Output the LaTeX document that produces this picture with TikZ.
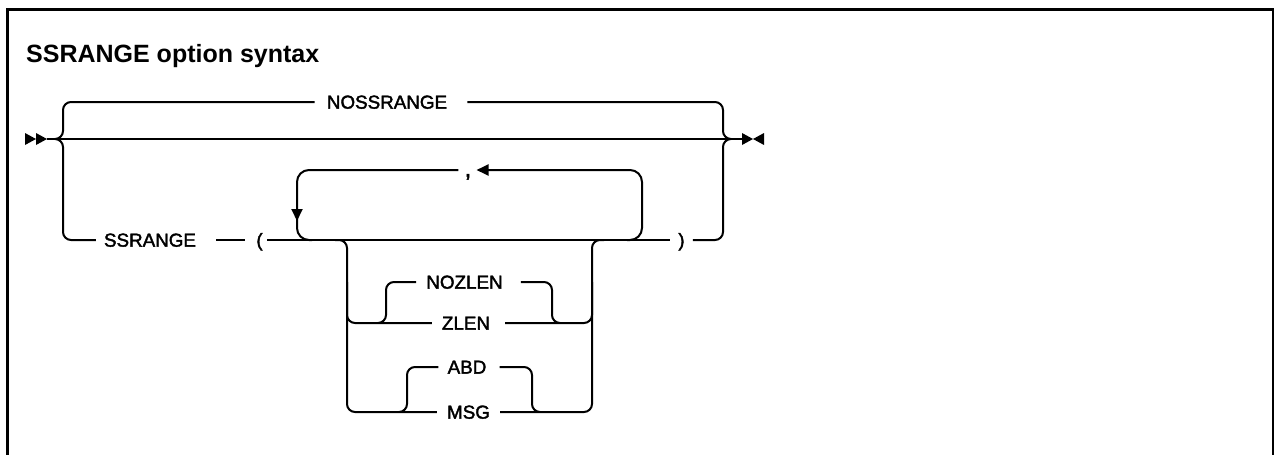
\documentclass[tikz,border=0pt]{standalone}
\usepackage{fontspec}
\setmainfont{Liberation Sans}
\newfontfamily\labfont[FakeBold=2]{Liberation Sans}
\usetikzlibrary{positioning,arrows.meta}

\begin{document}
\begin{tikzpicture}[
  x=1pt, y=-1pt,
  rail/.style={line width=2pt, rounded corners=8pt},
  loopline/.style={rail, rounded corners=12pt},
  kw/.style={font=\labfont\fontsize{18.8}{22}\selectfont, inner sep=0pt,
             text height=13.3pt, text depth=0pt},
  tip/.style={-{Triangle[length=12pt, width=11pt]}},
  frame/.style={line width=3pt}
]
\useasboundingbox (0,0) rectangle (1274,455);
% ----- frame and title -----
\draw[frame] (7,455) -- (7,9) -- (1273,9) -- (1273,455);
\node[font=\bfseries\fontsize{25}{30}\selectfont, anchor=base west, inner sep=0pt]
  (title) at (26,62) {SSRANGE option syntax};
% ----- keywords -----
\node[kw] (nossrange) at (387,102)   {NOSSRANGE};
\node[kw] (ssrange)   at (150,240)   {SSRANGE};
\node[kw] (lparen)    at (259.5,240) {(};
\node[kw, font=\labfont\fontsize{24}{26}\selectfont] (comma) at (468,170) {,};
\node[kw] (rparen)    at (681.5,240) {)};
\node[kw] (nozlen)    at (464.5,282) {NOZLEN};
\node[kw] (zlen)      at (466,323)   {ZLEN};
\node[kw] (abd)       at (467,367)   {ABD};
\node[kw] (msg)       at (468.5,412) {MSG};
% ----- junction points -----
\coordinate (start) at (47,139);
\coordinate (stop)  at (742,139);
\coordinate (jl)    at (63,139);
\coordinate (jr)    at (723,139);
\coordinate (lt)    at (297,170);
\coordinate (la)    at (297,221);
\coordinate (loopl) at (297,240);
\coordinate (rt)    at (642,170);
\coordinate (loopr) at (642,240);
\coordinate (cl)    at (347,240);
\coordinate (cr)    at (592,240);
\coordinate (nzl)   at (386,323);
\coordinate (nzr)   at (552,323);
\coordinate (abl)   at (407,412);
\coordinate (abr)   at (532,412);
% ----- start and end marks -----
\foreach \sx in {25,36}{\fill (\sx,133) -- (\sx,145) -- (\sx+11,139) -- cycle;}
\fill (stop) ++(0,-6) -- ++(0,12) -- (753,139) -- cycle;
\fill (764,133) -- (764,145) -- (753,139) -- cycle;
% ----- main line and outer choice -----
\draw[rail] (start) -- (stop);
\draw[rail] ([xshift=-8pt]jl) -- (jl) |- ([xshift=-12pt]nossrange.west);
\draw[rail] ([xshift=20pt]nossrange.east) -| (jr) -- ([xshift=8pt]jr);
\draw[rail] ([xshift=-8pt]jl) -- (jl) |- ([xshift=-8pt]ssrange.west);
\draw[rail] ([xshift=20pt]ssrange.east) -- ([xshift=-11pt]lparen.west);
\draw[rail] ([xshift=4.5pt]lparen.east) -- ([xshift=-8pt]rparen.west);
\draw[rail] ([xshift=8pt]rparen.east) -| (jr) -- ([xshift=8pt]jr);
% ----- repeat loop with separator -----
\draw[loopline, tip] ([xshift=-15pt]loopr) -- (loopr) -- (rt) -- ([xshift=5pt]comma.east |- rt);
\draw[loopline, tip] ([xshift=-6pt]comma.west |- lt) -- (lt) -- (la);
\draw[loopline] ([yshift=6pt]la) -- (loopl) -- ([xshift=15pt]loopl);
% ----- inner choice -----
\draw[rail] ([xshift=-12pt]cl) -- (cl) |- ([xshift=-10pt]msg.west);
\draw[rail] (cl |- nozlen) |- ([xshift=-10pt]zlen.west);
\draw[rail] ([xshift=10pt]msg.east) -| (cr) -- ([xshift=12pt]cr);
\draw[rail] ([xshift=15pt]zlen.east) -| (cr |- nozlen);
\draw[rail] ([xshift=-8pt]nzl) -- (nzl) |- ([xshift=-10pt]nozlen.west);
\draw[rail] ([xshift=18pt]nozlen.east) -| (nzr) -- ([xshift=8pt]nzr);
\draw[rail] ([xshift=-8pt]abl) -- (abl) |- ([xshift=-9pt]abd.west);
\draw[rail] ([xshift=13pt]abd.east) -| (abr) -- ([xshift=8pt]abr);
\end{tikzpicture}
\end{document}
